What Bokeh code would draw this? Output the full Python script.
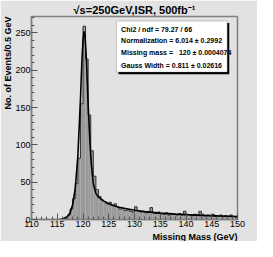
from bokeh.plotting import figure
from bokeh.models import Range1d, FixedTicker, Label, BoxAnnotation, Title
from bokeh.embed import file_html
from bokeh.resources import INLINE

# ---- data ----
bin_start = 110.0
bin_width = 0.5
counts = [0] * 12 + [
    1, 2, 6, 14, 28, 48, 82, 155, 259, 215, 140, 92,
    58, 40, 31, 26, 24, 21, 23, 19, 21, 17,
] + [
    14, 15, 12, 13, 11, 10, 17, 12, 10, 11, 9, 10, 16, 9, 8, 10,
    8, 7, 9, 6, 8, 7, 6, 8, 6, 11, 7, 6, 5, 7, 6, 11, 7, 5, 6, 5,
    7, 4, 5, 6, 4, 5, 4, 6, 4, 3,
]
fit_x = [115.5, 116.0, 117.0, 117.5, 118.0, 118.5, 119.0, 119.5, 119.8, 120.0, 120.2,
         120.4, 120.6, 120.8, 121.0, 121.3, 121.6, 122.0, 122.5, 123.0, 124.0, 125.0,
         126.0, 127.0, 128.0, 130.0, 132.0, 135.0, 138.0, 140.0, 143.0, 146.0, 150.0]
fit_y = [0.0, 0.5, 4, 9, 20, 42, 85, 160, 215, 240, 252,
         245, 222, 190, 155, 110, 75, 48, 35, 30, 25, 21,
         18.5, 16.5, 15, 12.5, 10.5, 8.5, 7.2, 6.5, 5.5, 4.8, 4.0]
x_ticks = [110, 115, 120, 125, 130, 135, 140, 145, 150]
y_ticks = [0, 50, 100, 150, 200, 250]
title_text = "\u221as=250GeV,ISR, 500fb\u207b\u00b9"
x_title = "Missing Mass (GeV)"
y_title = "No. of Events/0.5 GeV"
stats_lines = [
    "Chi2 / ndf = 79.27 / 66",
    "Normalization = 6.014 \u00b1 0.2992",
    "Missing mass = \u00a0\u00a0120 \u00b1 0.0004074",
    "Gauss Width = 0.811 \u00b1 0.02616",
]

n = len(counts)
left = [bin_start + i * bin_width for i in range(n)]
right = [l + bin_width for l in left]

BG = "#e2e2e2"
FONT = "Liberation Sans"

p = figure(width=257, height=241, output_backend="svg", toolbar_location=None,
           x_range=Range1d(110, 150), y_range=Range1d(0, 272),
           min_border_left=0, min_border_right=20, min_border_top=0, min_border_bottom=0)
p.background_fill_color = BG
p.border_fill_color = BG
p.outline_line_color = "#808080"
p.outline_line_width = 1.5
p.xgrid.visible = False
p.ygrid.visible = False

# titles
p.title.text = title_text
p.title.align = "center"
p.title.text_font = FONT
p.title.text_font_style = "bold"
p.title.text_font_size = "11px"
p.title.text_color = "black"
p.title.standoff = 2
p.title.offset = -6

p.add_layout(Title(text=y_title, align="right", text_font=FONT, text_font_style="bold",
                   text_font_size="9px", text_color="black", standoff=0), "left")
p.add_layout(Title(text=x_title, align="right", text_font=FONT, text_font_style="bold",
                   text_font_size="9px", text_color="black", standoff=0), "below")

# histogram
p.quad(left=left, right=right, bottom=0, top=counts, fill_color="#9a9a9a",
       line_color=None)
step_x = []
step_y = []
for l, r, c in zip(left, right, counts):
    step_x += [l, r]
    step_y += [c, c]
p.line(step_x, step_y, line_color="#303030", line_width=1)
# fit
p.line(fit_x, fit_y, line_color="black", line_width=1.6)

for ax, ticks, minor in ((p.xaxis[0], x_ticks, list(range(110, 151))),
                         (p.yaxis[0], y_ticks, list(range(0, 271, 10)))):
    ax.ticker = FixedTicker(ticks=ticks, minor_ticks=minor)
    ax.axis_line_color = "#808080"
    ax.axis_line_width = 1.5
    ax.major_tick_in = 6
    ax.major_tick_out = 0
    ax.minor_tick_in = 3
    ax.minor_tick_out = 0
    ax.major_tick_line_color = "#555555"
    ax.minor_tick_line_color = "#555555"
    ax.major_label_text_font = FONT
    ax.major_label_text_font_size = "9px"
    ax.major_label_text_color = "black"
    ax.major_label_standoff = 1

# stats box
p.add_layout(BoxAnnotation(left=126.9, right=148.4, top=263.3, bottom=194.5,
                           fill_color="black", fill_alpha=1, line_color=None))
p.add_layout(BoxAnnotation(left=126.5, right=148.0, top=266, bottom=197.5,
                           fill_color="white", fill_alpha=1, line_color="#606060",
                           line_width=1))
for txt, yy in zip(stats_lines, [255, 240, 224, 207]):
    p.add_layout(Label(x=127.4, y=yy, text=txt, text_align="left",
                       text_baseline="middle", text_font=FONT, text_font_style="bold",
                       text_font_size="7px", text_color="black"))

open("out.html", "w").write(file_html(p, INLINE))
